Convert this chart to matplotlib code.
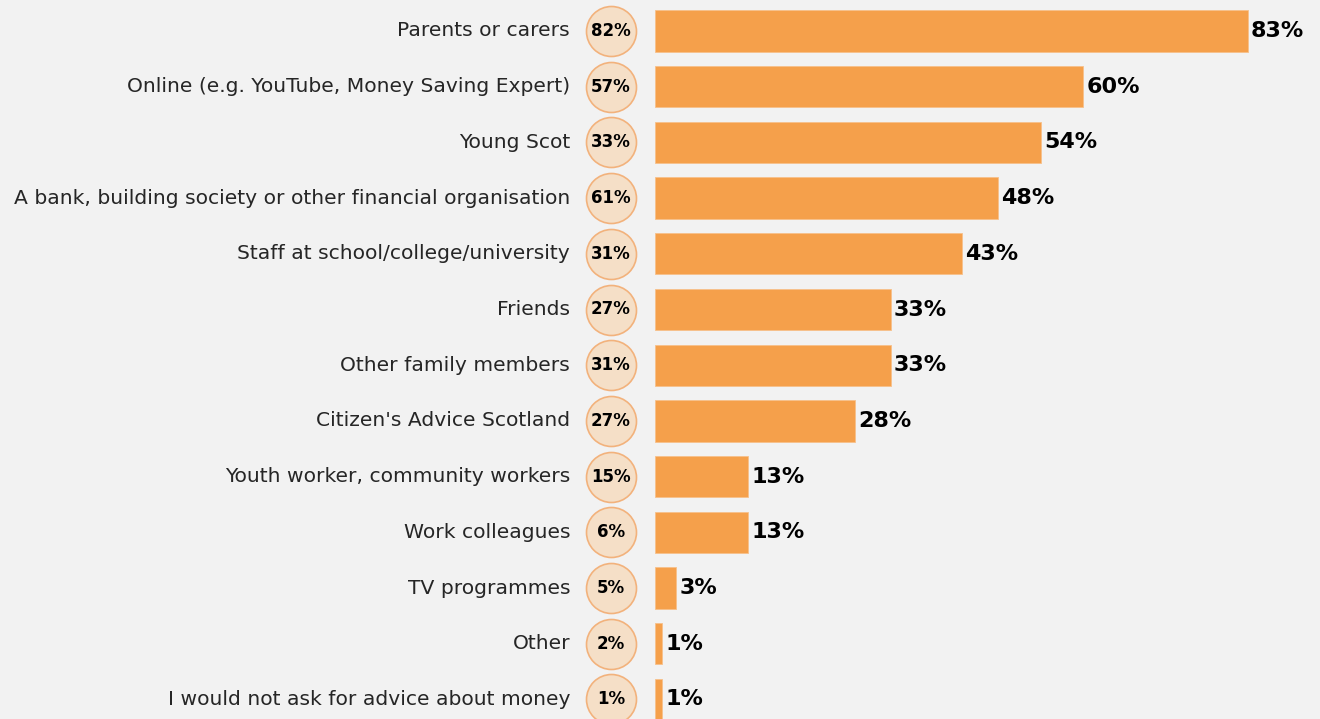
import numpy as np
import matplotlib.pyplot as plt
from matplotlib.transforms import blended_transform_factory

sources = [
    "Parents or carers",
    "Online (e.g. YouTube, Money Saving Expert)",
    "Young Scot",
    "A bank, building society or other financial organisation",
    "Staff at school/college/university",
    "Friends",
    "Other family members",
    "Citizen's Advice Scotland",
    "Youth worker, community workers",
    "Work colleagues",
    "TV programmes",
    "Other",
    "I would not ask for advice about money",
]
current = [83, 60, 54, 48, 43, 33, 33, 28, 13, 13, 3, 1, 1]
previous = [82, 57, 33, 61, 31, 27, 31, 27, 15, 6, 5, 2, 1]

bg = "#f2f2f2"
bar_col = "#f5a04b"
bubble_fill = "#f5dfc7"
bubble_edge = "#f2b27c"

W, H = 1320, 719
fig = plt.figure(figsize=(W / 100, H / 100), dpi=100, facecolor=bg)
ax = fig.add_axes([655 / W, 0, 1 - 655 / W, 1])
ax.set_facecolor(bg)

px_per_unit = 7.14
row_h = 55.7
first_row = 31
ax.set_xlim(0, (W - 655) / px_per_unit)
ax.set_ylim((H - first_row) / row_h, -first_row / row_h)

y = np.arange(len(sources))
ax.barh(y, current, height=0.74, color=bar_col, edgecolor="#f7c08a", linewidth=0.6)

for yi, v in zip(y, current):
    ax.text(v + 0.45, yi, f"{v}%", va="center", ha="left",
            fontsize=16, fontweight="bold", color="black")

# previous-wave values shown in bubbles left of the bars
bubble_x = (611 - 655) / px_per_unit
ax.scatter(np.full(len(y), bubble_x), y, s=36 ** 2, color=bubble_fill,
           edgecolor=bubble_edge, linewidth=1.2, clip_on=False, zorder=3)
for yi, v in zip(y, previous):
    ax.text(bubble_x, yi, f"{v}%", va="center", ha="center",
            fontsize=12, fontweight="bold", color="black", zorder=4, clip_on=False)

trans = blended_transform_factory(fig.transFigure, ax.transData)
for yi, name in zip(y, sources):
    ax.text(570 / W, yi, name, transform=trans, va="center", ha="right",
            fontsize=14.6, color="#262626")

ax.axis("off")
fig.savefig("out.png", dpi=100, facecolor=bg)
